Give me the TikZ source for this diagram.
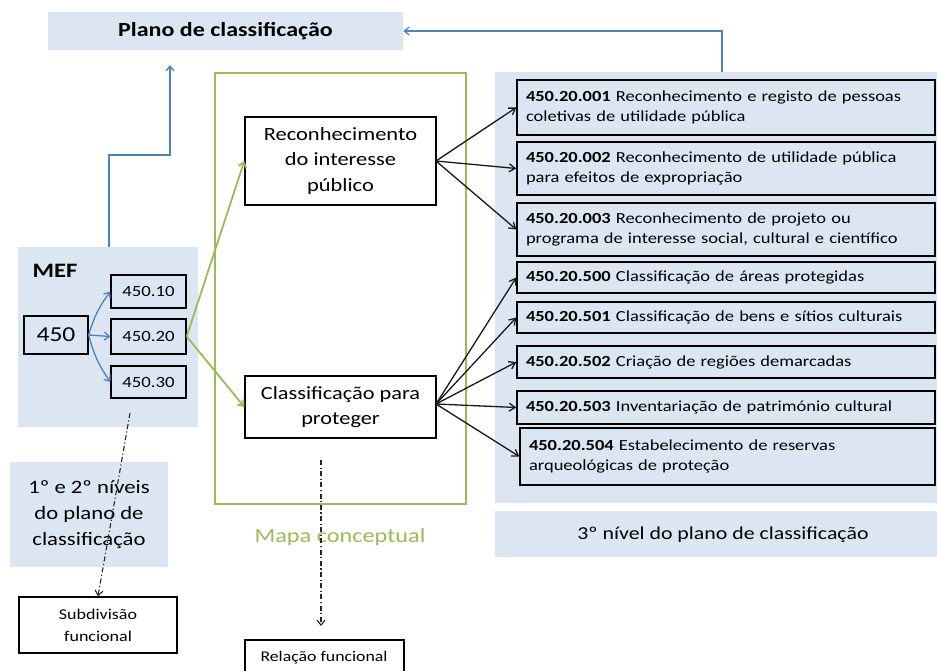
\documentclass[tikz,border=0pt]{standalone}
\usepackage{fontspec}
\setmainfont{Carlito}[FakeStretch=1.2]
\usetikzlibrary{arrows.meta}
\definecolor{lblue}{HTML}{DCE6F2}
\definecolor{oblue}{HTML}{4F81BD}
\definecolor{ogreen}{HTML}{9BBB59}
\tikzset{
  bx/.style={draw=black, line width=1.3pt, inner sep=0pt, anchor=center, align=center},
  rbox/.style={draw=black, line width=1.4pt, fill=lblue, anchor=center, align=left, inner xsep=9pt, inner ysep=0pt, minimum width=418pt, text width=400pt, font=\fontsize{15.4}{20}\selectfont},
  area/.style={fill=lblue, draw=none, inner sep=0pt, anchor=center},
  blk/.style={-{Straight Barb[length=6pt,width=8pt]}, line width=1.3pt, black!90},
  bluearr/.style={-{Straight Barb[length=5pt,width=8pt]}, line width=1.3pt, oblue},
  grnarr/.style={-{Straight Barb[length=5pt,width=8pt]}, line width=1.8pt, ogreen},
  dd/.style={-{Straight Barb[length=5pt,width=8pt]}, line width=1.1pt, black!85, dash pattern=on 5pt off 2.5pt on 1.2pt off 2.5pt}
}
\begin{document}
\begin{tikzpicture}[x=1pt,y=-1pt]
\clip (0,0) rectangle (937,671);
\fill[white] (0,0) rectangle (937,671);
% areas
\node[area, minimum width=355pt, minimum height=38pt, font=\bfseries\fontsize{20}{22}\selectfont] (plano) at (225.5,31) {Plano de classificação};
\node[area, minimum width=180pt, minimum height=180pt] (mef) at (108,337) {};
\node[area, minimum width=158pt, minimum height=105pt, align=center, font=\fontsize{18.9}{26}\selectfont] (niveis) at (89,514.5) {1º e 2º níveis\\do plano de\\classificação};
\node[area, minimum width=445pt, minimum height=431pt] (panel) at (717.5,287.5) {};
\node[area, minimum width=455pt, minimum height=46pt] (nivel3) at (722.5,534) {};
\node[font=\fontsize{18.2}{20}\selectfont] (nivel3t) at (723,535) {3º nível do plano de classificação};
% green frame
\node[draw=ogreen, line width=1.3pt, minimum width=251pt, minimum height=431pt, inner sep=0pt] (mapa) at (340.5,288.5) {};
\node[text=ogreen, font=\fontsize{20.2}{24}\selectfont] (mapat) at (340,537) {Mapa conceptual};
% MEF
\node[font=\bfseries\fontsize{20.5}{22}\selectfont] (meft) at (55,271) {MEF};
\node[bx, fill=lblue, minimum width=64pt, minimum height=38pt, font=\fontsize{21.3}{24}\selectfont] (b450) at (56,335) {450};
\node[bx, fill=lblue, minimum width=75pt, minimum height=33pt, font=\fontsize{15.6}{16}\selectfont] (b10) at (148.5,291.5) {450.10};
\node[bx, fill=lblue, minimum width=75pt, minimum height=35pt, font=\fontsize{15.6}{16}\selectfont] (b20) at (148.5,336.5) {450.20};
\node[bx, fill=lblue, minimum width=75pt, minimum height=32pt, font=\fontsize{15.6}{16}\selectfont] (b30) at (148.5,382) {450.30};
% concept boxes
\node[bx, fill=white, minimum width=191pt, minimum height=88pt, font=\fontsize{18.7}{25.5}\selectfont] (recon) at (340.5,161) {Reconhecimento\\do interesse\\público};
\node[bx, fill=white, minimum width=191pt, minimum height=62pt, font=\fontsize{18.6}{25.5}\selectfont] (classif) at (340.5,407) {Classificação para\\proteger};
% bottom boxes
\node[bx, fill=white, minimum width=158pt, minimum height=56pt, font=\fontsize{15}{22}\selectfont] (subdiv) at (98,625) {Subdivisão\\funcional};
\node[bx, fill=white, minimum width=159pt, minimum height=62pt] (relacao) at (324.5,671) {};
\node[font=\fontsize{14.8}{16}\selectfont] (relacaot) at (324,658) {Relação funcional};
% right boxes
\node[rbox, minimum height=55pt] (r1) at (726,107.5) {\textbf{450.20.001} Reconhecimento e registo de pessoas\\coletivas de utilidade pública};
\node[rbox, minimum height=53pt] (r2) at (726,168.5) {\textbf{450.20.002} Reconhecimento de utilidade pública\\para efeitos de expropriação};
\node[rbox, minimum height=53pt] (r3) at (726,229.5) {\textbf{450.20.003} Reconhecimento de projeto ou\\programa de interesse social, cultural e científico};
\node[rbox, minimum height=31pt] (r4) at (726,277.5) {\textbf{450.20.500} Classificação de áreas protegidas};
\node[rbox, minimum height=31pt] (r5) at (726,317.5) {\textbf{450.20.501} Classificação de bens e sítios culturais};
\node[rbox, minimum height=32pt] (r6) at (726,362) {\textbf{450.20.502} Criação de regiões demarcadas};
\node[rbox, minimum height=33pt] (r7) at (726,407.5) {\textbf{450.20.503} Inventariação de património cultural};
\node[rbox, minimum height=57pt, minimum width=415pt, text width=397pt] (r8) at (727.5,456.5) {\textbf{450.20.504} Estabelecimento de reservas\\arqueológicas de proteção};
% blue connectors
\coordinate (ptop) at (722,72);
\draw[bluearr] (ptop) |- (plano.east);
\coordinate (mtop) at (109,247);
\coordinate (pbot) at (170,65);
\draw[bluearr] (mtop) -- (109,155) -| (pbot);
\draw[bluearr] (b450.east) to[bend left=10] (b10.west);
\draw[bluearr] (b450.east) -- (b20.west);
\draw[bluearr] (b450.east) to[bend right=10] (b30.west);
% green connectors
\draw[grnarr] (b20.east) -- (recon.west);
\draw[grnarr] (b20.east) -- (classif.west);
% black connectors
\coordinate (rc) at (436,161);
\coordinate (cc) at (436,404);
\foreach \t in {r1,r2,r3} \draw[blk] (rc) -- (\t.west);
\foreach \t in {r4,r5,r6,r7,r8} \draw[blk] (cc) -- (\t.west);
% dashdot
\coordinate (d1s) at (130,413);
\draw[dd] (d1s) -- (subdiv.north);
\coordinate (d2s) at (321,460);
\coordinate (d2e) at (321,626);
\draw[dd] (d2s) -- (d2e);
\end{tikzpicture}
\end{document}
